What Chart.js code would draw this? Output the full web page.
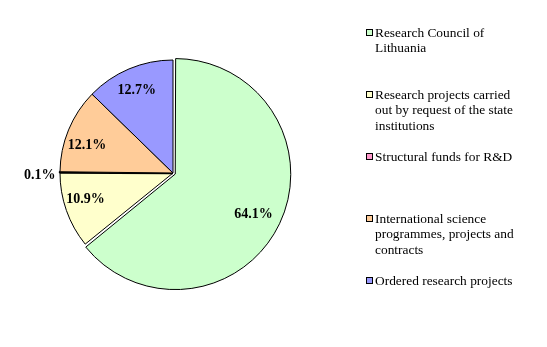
<!DOCTYPE html>
<html>
<head>
<meta charset="utf-8">
<script src="https://cdn.jsdelivr.net/npm/chart.js@4/dist/chart.umd.min.js"></script>
<style>
  html, body { margin: 0; padding: 0; background: #fff; }
  #wrap { width: 547px; height: 347px; position: relative; }
</style>
</head>
<body>
<div id="wrap"><canvas id="chart"></canvas></div>
<script>
const CATEGORIES = [
  "Research Council of Lithuania",
  "Research projects carried out by request of the state institutions",
  "Structural funds for R&D",
  "International science programmes, projects and contracts",
  "Ordered research projects",
];
const SHARES = [64.1, 10.9, 0.1, 12.1, 12.7];
const VALUE_LABELS = ["64.1%", "10.9%", "0.1%", "12.1%", "12.7%"];
const LEGEND_LINES = [
  ["Research Council of", "Lithuania"],
  ["Research projects carried", "out by request of the state", "institutions"],
  ["Structural funds for R&D"],
  ["International science", "programmes, projects and", "contracts"],
  ["Ordered research projects"],
];
const COLORS = ["#ccffcc", "#ffffcc", "#ff99cc", "#ffcc99", "#9999ff"];

// where each value label sits: fraction of radius, small angle nudge (deg)
const LABEL_PLACE = [
  { f: 0.80, shift: 1.7 },
  { f: 0.81, shift: 2.4 },
  { f: 1.18, shift: -1.5 },
  { f: 0.80, shift: -4.7 },
  { f: 0.80, shift: -0.8 },
];
// middle of first line for each legend entry
const LEGEND_Y = [33, 95, 157, 219, 281];

const valueLabels = {
  id: "valueLabels",
  afterDatasetsDraw(chart) {
    const ctx = chart.ctx;
    const arcs = chart.getDatasetMeta(0).data;
    ctx.save();
    ctx.font = "bold 14px 'Liberation Serif'";
    ctx.fillStyle = "#000";
    ctx.textAlign = "center";
    ctx.textBaseline = "middle";
    arcs.forEach((arc, i) => {
      const p = arc.getProps(["x", "y", "startAngle", "endAngle"], true);
      const mid = (p.startAngle + p.endAngle) / 2 + LABEL_PLACE[i].shift * Math.PI / 180;
      const r = 113 * LABEL_PLACE[i].f;
      ctx.fillText(VALUE_LABELS[i], p.x + Math.cos(mid) * r, p.y + Math.sin(mid) * r);
    });
    ctx.restore();
  },
};

const sideLegend = {
  id: "sideLegend",
  afterDraw(chart) {
    const ctx = chart.ctx;
    ctx.save();
    ctx.font = "13.4px 'Liberation Serif'";
    ctx.textBaseline = "middle";
    ctx.textAlign = "left";
    LEGEND_LINES.forEach((lines, i) => {
      const y0 = LEGEND_Y[i];
      ctx.fillStyle = COLORS[i];
      ctx.fillRect(366.5, y0 - 3.5, 6, 6);
      ctx.strokeStyle = "#000";
      ctx.lineWidth = 1;
      ctx.strokeRect(366.5, y0 - 3.5, 6, 6);
      ctx.fillStyle = "#000";
      lines.forEach((t, k) => ctx.fillText(t, 375, y0 + k * 15.7));
    });
    ctx.restore();
  },
};

new Chart(document.getElementById("chart"), {
  type: "pie",
  data: {
    labels: CATEGORIES,
    datasets: [{
      data: SHARES,
      backgroundColor: COLORS,
      borderColor: "#000",
      borderWidth: [1, 1, 2.5, 1, 1],
      offset: [10, 0, 0, 0, 0],
    }],
  },
  options: {
    responsive: true,
    maintainAspectRatio: false,
    animation: false,
    radius: 113,
    layout: { padding: { left: 0, right: 201, top: 0, bottom: 1 } },
    plugins: {
      legend: { display: false },
      tooltip: { enabled: false },
    },
    events: [],
  },
  plugins: [valueLabels, sideLegend],
});
</script>
</body>
</html>
